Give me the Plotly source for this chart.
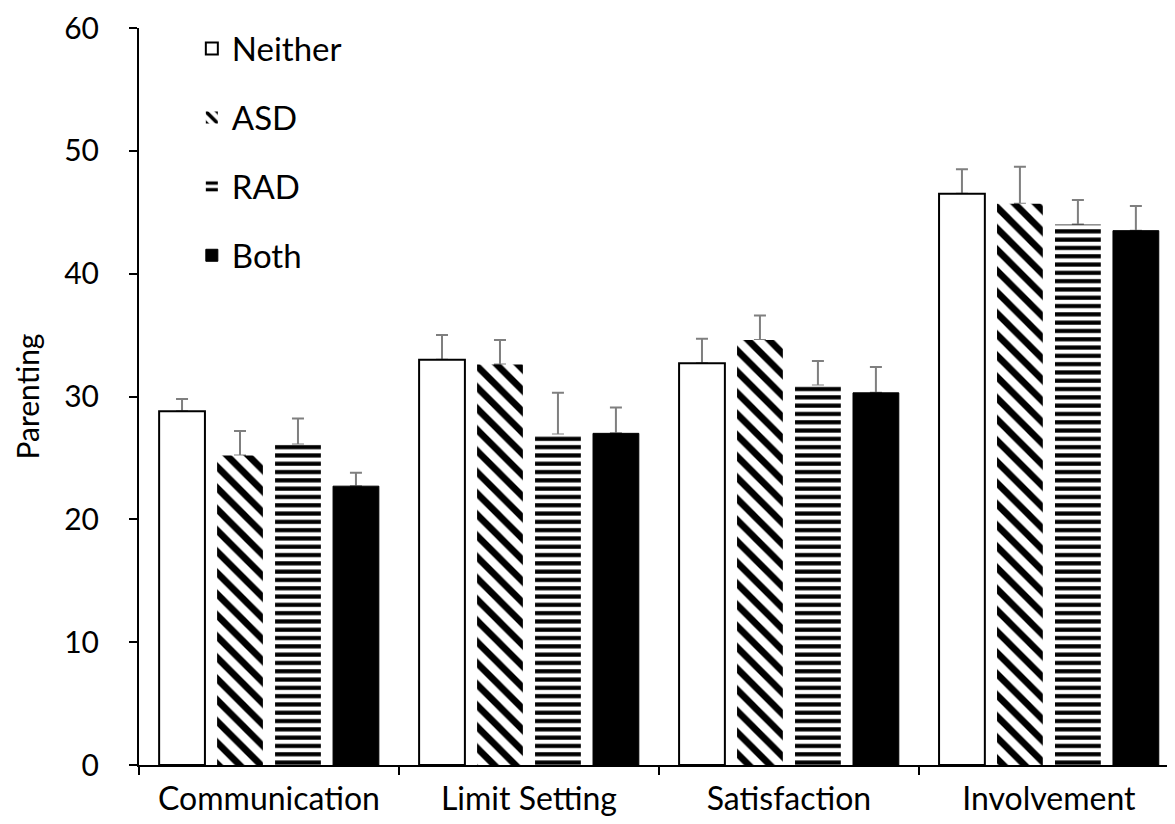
import plotly.graph_objects as go

categories = ["Communication", "Limit Setting", "Satisfaction", "Involvement"]
groups = ["Neither", "ASD", "RAD", "Both"]
neither = [28.8, 33.0, 32.7, 46.5]
asd = [25.2, 32.6, 34.6, 45.7]
rad = [26.1, 26.9, 30.9, 44.0]
both = [22.7, 27.0, 30.3, 43.5]
neither_err = [1.0, 2.0, 2.0, 2.0]
asd_err = [2.0, 2.0, 2.0, 3.0]
rad_err = [2.1, 3.4, 2.0, 2.0]
both_err = [1.1, 2.1, 2.1, 2.0]

values = [neither, asd, rad, both]
errors = [neither_err, asd_err, rad_err, both_err]

FONT = "Lato"
styles = [
    dict(color="white", line=dict(color="black", width=2)),
    dict(color="white", line=dict(width=0),
         pattern=dict(shape="\\", fgcolor="black", bgcolor="white", fgopacity=1,
                      size=15, solidity=0.45, fillmode="replace")),
    dict(color="white", line=dict(width=0),
         pattern=dict(shape="-", fgcolor="black", bgcolor="white", fgopacity=1,
                      size=8.3, solidity=0.5, fillmode="replace")),
    dict(color="black", line=dict(color="black", width=1)),
]

fig = go.Figure()
# error bars first (drawn underneath the bars, so only the upper whisker shows)
for name, vals, errs in zip(groups, values, errors):
    fig.add_trace(go.Bar(
        x=categories, y=vals, name=name + " SE", offsetgroup=name, showlegend=False,
        marker=dict(color="rgba(0,0,0,0)", line=dict(width=0)), hoverinfo="skip",
        error_y=dict(type="data", array=errs, arrayminus=[0] * len(errs), symmetric=False,
                     color="#7f7f7f", thickness=2, width=6),
    ))
for i, (name, vals, st) in enumerate(zip(groups, values, styles)):
    fig.add_trace(go.Bar(
        x=categories, y=vals, name=name, marker=st, offsetgroup=name,
        legendgroup=name, legendrank=i + 1,
    ))

fig.update_layout(
    width=1167, height=816,
    margin=dict(l=131, r=0, t=17, b=59),
    paper_bgcolor="white", plot_bgcolor="white",
    barmode="group", bargap=0.108, bargroupgap=0.21,
    font=dict(family=FONT, color="black"),
    showlegend=True,
    legend=dict(x=0.051, y=1.01, xanchor="left", yanchor="top",
                font=dict(size=33, family=FONT), tracegroupgap=23,
                bgcolor="rgba(0,0,0,0)", itemwidth=30),
)
fig.update_xaxes(
    range=[-0.5, 3.485], showline=True, linecolor="black", linewidth=2,
    ticks="outside", tickson="boundaries", ticklen=8, tickwidth=1.5, tickcolor="black",
    tickfont=dict(size=32, family=FONT), ticklabelstandoff=5, showgrid=False,
)
fig.update_yaxes(
    range=[0, 60], dtick=10, showline=True, linecolor="black", linewidth=2,
    ticks="outside", ticklen=8, tickwidth=1.5, tickcolor="black",
    tickfont=dict(size=30, family=FONT), ticklabelstandoff=24, showgrid=False,
    ticklabeloverflow="allow", zeroline=False,
    title=dict(text="Parenting", font=dict(size=30, family=FONT), standoff=16),
)

fig.write_html("out.html")
